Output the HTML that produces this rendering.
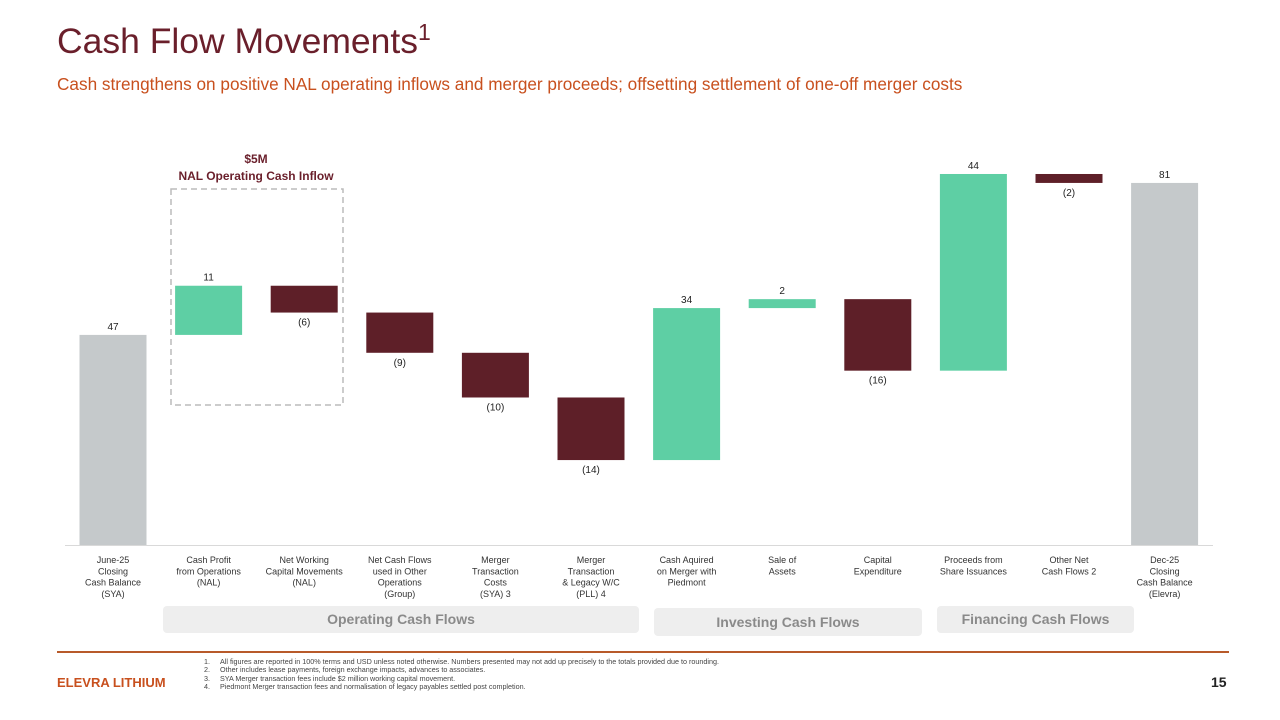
<!DOCTYPE html>
<html><head><meta charset="utf-8"><style>
body{margin:0;width:1280px;height:720px;background:#fff;font-family:"Liberation Sans",sans-serif;position:relative;overflow:hidden}
.t{position:absolute;white-space:nowrap}
.grp{position:absolute;background:#eeeeee;border-radius:4px;color:#8a8a8a;font-weight:bold;font-size:14px;text-align:center}
.fn{position:absolute;left:204px;font-size:7.2px;color:#444;line-height:8.3px;white-space:nowrap}
</style></head><body>
<div class="t" style="left:57px;top:19px;font-size:35.5px;color:#6a1f2b">Cash Flow Movements<sup style="font-size:23px">1</sup></div>
<div class="t" style="left:57px;top:74px;font-size:17.2px;color:#c8501e">Cash strengthens on positive NAL operating inflows and merger proceeds; offsetting settlement of one-off merger costs</div>
<svg id="chart" width="1280" height="720" style="position:absolute;left:0;top:0"></svg>
<div class="grp" style="left:163px;top:606px;width:476px;height:27px;line-height:27px">Operating Cash Flows</div>
<div class="grp" style="left:654px;top:608px;width:268px;height:28px;line-height:28px">Investing Cash Flows</div>
<div class="grp" style="left:937px;top:606px;width:197px;height:27px;line-height:27px">Financing Cash Flows</div>
<div style="position:absolute;left:57px;top:651px;width:1172px;height:2px;background:#b85a2a"></div>
<div class="t" style="left:57px;top:675px;font-size:13px;font-weight:bold;color:#c8501e">ELEVRA LITHIUM</div>
<div class="t" style="left:1211px;top:674px;font-size:14px;font-weight:bold;color:#222">15</div>
<div class="fn" style="top:658px">
<div>1.&nbsp;&nbsp;&nbsp;&nbsp;&nbsp;All figures are reported in 100% terms and USD unless noted otherwise. Numbers presented may not add up precisely to the totals provided due to rounding.</div>
<div>2.&nbsp;&nbsp;&nbsp;&nbsp;&nbsp;Other includes lease payments, foreign exchange impacts, advances to associates.</div>
<div>3.&nbsp;&nbsp;&nbsp;&nbsp;&nbsp;SYA Merger transaction fees include $2 million working capital movement.</div>
<div>4.&nbsp;&nbsp;&nbsp;&nbsp;&nbsp;Piedmont Merger transaction fees and normalisation of legacy payables settled post completion.</div>
</div>
<script>
const categories=[["June-25","Closing","Cash Balance","(SYA)"],["Cash Profit","from Operations","(NAL)"],["Net Working","Capital Movements","(NAL)"],["Net Cash Flows","used in Other","Operations","(Group)"],["Merger","Transaction","Costs","(SYA) 3"],["Merger","Transaction","& Legacy W/C","(PLL) 4"],["Cash Aquired","on Merger with","Piedmont"],["Sale of","Assets"],["Capital","Expenditure"],["Proceeds from","Share Issuances"],["Other Net","Cash Flows 2"],["Dec-25","Closing","Cash Balance","(Elevra)"]];
const values=[47,11,-6,-9,-10,-14,34,2,-16,44,-2,81];
const kinds=["total","delta","delta","delta","delta","delta","delta","delta","delta","delta","delta","total"];
const labels=["47","11","(6)","(9)","(10)","(14)","34","2","(16)","44","(2)","81"];
const svg=document.getElementById('chart');const NS="http://www.w3.org/2000/svg";
const base=545,k=4.47,x0=113,step=95.6,bw=67;
const y=v=>base-v*k;const xc=i=>x0+i*step;
function mk(t,a){const e=document.createElementNS(NS,t);for(const p in a)e.setAttribute(p,a[p]);svg.appendChild(e);return e;}
const ax=mk('line',{x1:65,x2:1213,y1:base+0.5,y2:base+0.5,stroke:'#d9d9d9','stroke-width':1});


let cum=0;
values.forEach((v,i)=>{
 let lo,hi,col;
 if(kinds[i]==="total"){lo=0;hi=v;cum=v;col="#c5c9cb";}
 else{const s=cum;cum+=v;lo=Math.min(s,cum);hi=Math.max(s,cum);col=v>=0?"#5ecfa4":"#5e1f28";}
 const r=mk('rect',{x:xc(i)-bw/2,y:y(hi),width:bw,height:(hi-lo)*k,fill:col});
 
 
 const neg=kinds[i]!=="total"&&v<0;
 const ty=neg?y(lo)+13:y(hi)-5;
 const t=mk('text',{x:xc(i),y:ty,'text-anchor':'middle','font-size':10,fill:'#222'});t.textContent=labels[i];
 
 
 categories[i].forEach((ln,j)=>{const c=mk('text',{x:xc(i),y:563+j*11.3,'text-anchor':'middle','font-size':9,fill:'#333'});c.textContent=ln;
 
 });
});
const box=mk('rect',{x:171,y:189,width:172,height:216,fill:'none',stroke:'#bbb','stroke-dasharray':'6,4','stroke-width':1.5});


const a1=mk('text',{x:256,y:163,'text-anchor':'middle','font-size':12,'font-weight':'bold',fill:'#6a1f2b'});a1.textContent="$5M";


const a2=mk('text',{x:256,y:180,'text-anchor':'middle','font-size':12,'font-weight':'bold',fill:'#6a1f2b'});a2.textContent="NAL Operating Cash Inflow";


</script>
</body></html>
